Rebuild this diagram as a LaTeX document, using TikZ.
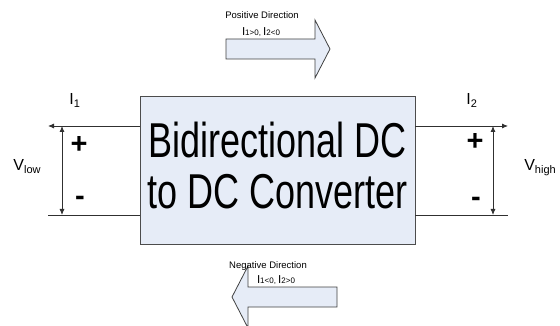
\documentclass[tikz,border=0pt]{standalone}
\usepackage{fontspec}
\setmainfont{Liberation Sans}
\usetikzlibrary{arrows.meta}
\definecolor{boxfill}{HTML}{E6ECF7}
\definecolor{wire}{HTML}{303030}
\tikzset{
  wireline/.style={draw=wire, line width=0.8pt},
  tipend/.style={-{Latex[length=6pt,width=5pt]}},
  dbl/.style={{Latex[length=6pt,width=5pt]}-{Latex[length=6pt,width=5pt]}},
  blockarrow/.style={draw=black!75, fill=boxfill, line width=0.8pt},
  bigtxt/.style={inner sep=0pt, anchor=base, font=\fontsize{36}{40}\selectfont},
  sgn/.style={inner sep=0pt, font=\bfseries\fontsize{29}{30}\selectfont},
  cur/.style={inner sep=0pt, anchor=base, font=\fontsize{16}{18}\selectfont},
  small/.style={inner sep=0pt, anchor=base, font=\fontsize{9.5}{11}\selectfont},
  cond/.style={inner sep=0pt, anchor=base, font=\fontsize{11.5}{13}\selectfont}
}
\begin{document}
\begin{tikzpicture}[x=1pt,y=-1pt]
\useasboundingbox (0,0) rectangle (560,326);
% main box
\node[draw=black!70, fill=boxfill, line width=0.9pt, minimum width=275pt, minimum height=148pt, inner sep=0pt] (conv) at (277.5,170) {};
\node[bigtxt] (t1) at (277.5,158) {\scalebox{1}[1.36]{Bidirectional DC}};
\node[bigtxt] (t2) at (277.5,208) {\scalebox{1}[1.36]{to DC Converter}};
% wires
\coordinate (ltop) at (48,126);
\coordinate (lbot) at (48,215);
\coordinate (rtop) at (508,126);
\coordinate (rbot) at (508,215);
\draw[wireline, tipend] (conv.west |- ltop) -- (ltop);
\draw[wireline] (conv.west |- lbot) -- (lbot);
\draw[wireline, tipend] (conv.east |- rtop) -- (rtop);
\draw[wireline] (conv.east |- rbot) -- (rbot);
% voltage arrows
\coordinate (va) at (62,126);
\coordinate (vb) at (62,215);
\coordinate (vc) at (493,126);
\coordinate (vd) at (493,215);
\draw[wireline, dbl] (va) -- (vb);
\draw[wireline, dbl] (vc) -- (vd);
% labels
\node[cur] (i1) at (75,105) {I\textsubscript{\fontsize{11}{12}\selectfont 1}};
\node[cur] (i2) at (472,105) {I\textsubscript{\fontsize{11}{12}\selectfont 2}};
\node[cur] (vlow) at (27,171) {V\raisebox{-3pt}{\fontsize{11}{12}\selectfont low}};
\node[cur] (vhigh) at (540,171) {V\raisebox{-3pt}{\fontsize{11}{12}\selectfont high}};
\node[sgn] (pl) at (79,145) {+};
\node[sgn] (ml) at (80,201) {-};
\node[sgn] (pr) at (475,142) {+};
\node[sgn] (mr) at (476,202) {-};
% positive direction arrow
\draw[blockarrow] (226,39) -- (315,39) -- (315,20) -- (330,49) -- (315,78) -- (315,59) -- (226,59) -- cycle;
\node[small] (pd) at (262,19) {Positive Direction};
\node[cond] (pc) at (261,36) {I{\fontsize{8}{9}\selectfont 1>0, }I{\fontsize{8}{9}\selectfont 2<0}};
% negative direction arrow
\draw[blockarrow] (337,287) -- (248,287) -- (248,266) -- (232,297) -- (248,328) -- (248,307) -- (337,307) -- cycle;
\node[small] (nd) at (268,269) {Negative Direction};
\node[cond] (nc) at (276,283) {I{\fontsize{8}{9}\selectfont 1<0, }I{\fontsize{8}{9}\selectfont 2>0}};
\end{tikzpicture}
\end{document}
